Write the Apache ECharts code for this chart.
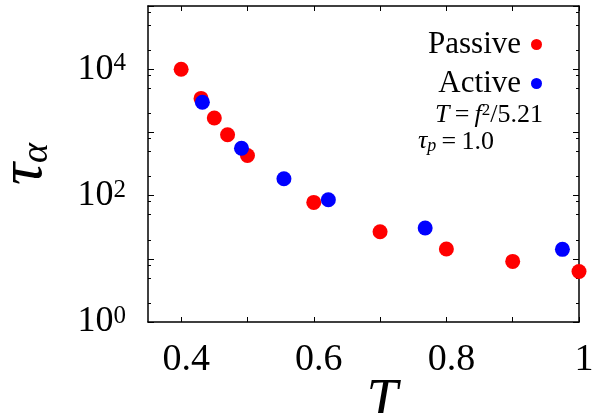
<!DOCTYPE html>
<html>
<head>
<meta charset="utf-8">
<script src="https://cdn.jsdelivr.net/npm/echarts@6/dist/echarts.min.js"></script>
<style>
html,body{margin:0;padding:0;background:#fff;}
#c{width:593px;height:413px;}
</style>
</head>
<body>
<div id="c"></div>
<script>
// ---- data ----
const passiveT   = [0.40, 0.43, 0.45, 0.47, 0.50, 0.60, 0.70, 0.80, 0.90, 1.00];
const passiveTau = [10000, 3450, 1690, 920, 430, 78, 26.8, 14.3, 9.1, 6.3];
const activeT    = [0.432, 0.491, 0.555, 0.622, 0.768, 0.975];
const activeTau  = [3000, 560, 185, 86, 30.7, 14.1];

const xTicks  = [0.4, 0.5, 0.6, 0.7, 0.8, 0.9, 1.0];
const xLabels = [0.4, 0.6, 0.8, 1.0];
const yMajor  = [1, 10, 100, 1000, 10000, 100000];
const yMinor  = [2, 5, 8, 20, 50, 80, 200, 500, 800, 2000, 5000, 8000, 20000, 50000, 80000];
const yLabels = [1, 100, 10000];

const FONT = '"Liberation Serif", "DejaVu Serif", serif';
const chart = echarts.init(document.getElementById('c'), null, {renderer: 'canvas'});

const lineStyle = {color: '#000', width: 1.5};
function yAxisBase(pos, ticks, len, showLine, labels) {
  return {
    type: 'log', logBase: 10, min: 1, max: 100000, position: pos,
    axisLine: {show: showLine, onZero: false, lineStyle: lineStyle},
    axisTick: {show: true, inside: true, length: len, customValues: ticks, lineStyle: {color: '#000', width: 1}},
    axisLabel: labels ? {
      show: true, customValues: labels, margin: 22,
      formatter: function (v) { return '{b|10}{s|' + Math.round(Math.log10(v)) + '}'; },
      rich: {
        b: {fontFamily: FONT, fontSize: 36, lineHeight: 36, color: '#000', verticalAlign: 'bottom', padding: [8, 0, 0, 0]},
        s: {fontFamily: FONT, fontSize: 25, lineHeight: 25, color: '#000', verticalAlign: 'top'}
      }
    } : {show: false},
    splitLine: {show: false}, minorTick: {show: false}
  };
}

const option = {
  backgroundColor: '#fff',
  animation: false,
  textStyle: {fontFamily: FONT},
  grid: {left: 148, right: 14, top: 6, bottom: 91, containLabel: false, outerBoundsMode: 'none'},
  legend: {
    orient: 'vertical', right: 46, top: 24, align: 'right', itemGap: 8,
    itemWidth: 11, itemHeight: 11, icon: 'circle',
    textStyle: {fontFamily: FONT, fontSize: 31, lineHeight: 30, color: '#000', padding: [0, 5, 0, 0]},
    data: ['Passive', 'Active']
  },
  xAxis: [
    {
      type: 'value', min: 0.35, max: 1.0, position: 'bottom',
      name: 'T', nameLocation: 'middle', nameGap: 53, nameMoveOverlap: false,
      nameTextStyle: {fontFamily: FONT, fontStyle: 'italic', fontSize: 56, lineHeight: 56, color: '#000', padding: [0, 0, 0, 37]},
      axisLine: {onZero: false, lineStyle: lineStyle},
      axisTick: {inside: true, length: 5, customValues: xTicks, lineStyle: {color: '#000', width: 1}},
      axisLabel: {customValues: xLabels, margin: 19, fontFamily: FONT, fontSize: 38, color: '#000', padding: [0, 0, 0, 10],
        formatter: function (v) { return v === 1 ? '1' : v.toFixed(1); }},
      splitLine: {show: false}
    },
    {
      type: 'value', min: 0.35, max: 1.0, position: 'top',
      axisLine: {onZero: false, lineStyle: lineStyle},
      axisTick: {inside: true, length: 5, customValues: xTicks, lineStyle: {color: '#000', width: 1}},
      axisLabel: {show: false}, splitLine: {show: false}
    }
  ],
  yAxis: [
    Object.assign(yAxisBase('left', yMajor, 6, true, yLabels), {
      name: '{t|τ}{s|α}', nameLocation: 'middle', nameGap: 92, nameMoveOverlap: false,
      nameTextStyle: {
        rich: {
          t: {fontFamily: FONT, fontStyle: 'italic', fontSize: 62, lineHeight: 62, color: '#000', verticalAlign: 'top'},
          s: {fontFamily: FONT, fontStyle: 'italic', fontSize: 38, lineHeight: 38, color: '#000', verticalAlign: 'bottom'}
        }
      }
    }),
    yAxisBase('left', yMinor, 3, false, null),
    yAxisBase('right', yMajor, 6, true, null),
    yAxisBase('right', yMinor, 3, false, null)
  ],
  graphic: [
    {
      type: 'text', x: 543, y: 115,
      style: {
        text: '{i|T}\u2009=\u2009{i|f}{p|2}/5.21', align: 'right', verticalAlign: 'middle',
        rich: {
          i: {fontFamily: FONT, fontStyle: 'italic', fontSize: 26, color: '#000', verticalAlign: 'bottom'},
          p: {fontFamily: FONT, fontSize: 17, color: '#000', verticalAlign: 'top'}
        },
        fontFamily: FONT, fontSize: 26, fill: '#000'
      }
    },
    {
      type: 'text', x: 418, y: 142,
      style: {
        text: '{i|τ}{b|p}\u2009=\u20091.0', align: 'left', verticalAlign: 'middle',
        rich: {
          i: {fontFamily: FONT, fontStyle: 'italic', fontSize: 26, color: '#000', verticalAlign: 'top'},
          b: {fontFamily: FONT, fontStyle: 'italic', fontSize: 18, color: '#000', verticalAlign: 'bottom', padding: [9, 0, 0, 0]}
        },
        fontFamily: FONT, fontSize: 26, fill: '#000'
      }
    }
  ],
  series: [
    {
      name: 'Passive', type: 'scatter', xAxisIndex: 0, yAxisIndex: 0,
      symbol: 'circle', symbolSize: 15, itemStyle: {color: '#ff0000', opacity: 1},
      data: passiveT.map((t, i) => [t, passiveTau[i]])
    },
    {
      name: 'Active', type: 'scatter', xAxisIndex: 0, yAxisIndex: 0,
      symbol: 'circle', symbolSize: 15, itemStyle: {color: '#0000ff', opacity: 1},
      data: activeT.map((t, i) => [t, activeTau[i]])
    }
  ]
};
chart.setOption(option);
</script>
</body>
</html>
